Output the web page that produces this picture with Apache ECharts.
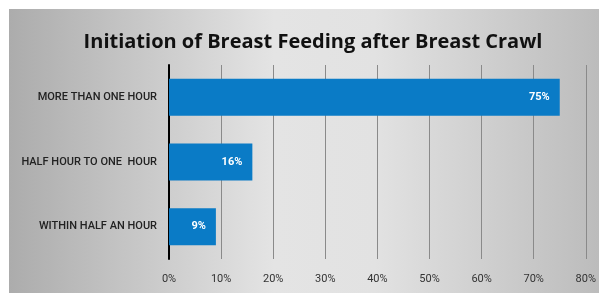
<!DOCTYPE html>
<html>
<head>
<meta charset="utf-8">
<script src="https://cdn.jsdelivr.net/npm/echarts@6/dist/echarts.min.js"></script>
<style>
  html, body { margin: 0; padding: 0; background: #fff; }
  #chart { width: 599px; height: 293px; }
</style>
</head>
<body>
<div id="chart"></div>
<script>
// data, top to bottom as shown
const categories = ['MORE THAN ONE HOUR', 'HALF HOUR TO ONE  HOUR', 'WITHIN HALF AN HOUR'];
const percents = [75, 16, 9];
const axisMax = 80;
const axisStep = 10;

const chart = echarts.init(document.getElementById('chart'));

const option = {
  animation: false,
  graphic: [{
    type: 'rect',
    z: -10,
    shape: { x: 9, y: 9, width: 590, height: 284 },
    style: {
      fill: new echarts.graphic.LinearGradient(0, 0, 1, 0, [
        { offset: 0, color: '#acacac' },
        { offset: 0.45, color: '#e4e4e4' },
        { offset: 0.62, color: '#e2e2e2' },
        { offset: 1, color: '#bcbcbc' }
      ])
    }
  }],
  title: {
    text: 'Initiation of Breast Feeding after Breast Crawl',
    left: 308,
    top: 27,
    textAlign: 'center',
    textStyle: {
      fontFamily: 'Open Sans',
      fontWeight: 'bold',
      fontSize: 20,
      color: '#111'
    }
  },
  grid: { left: 169, right: 13, top: 65, bottom: 34, containLabel: false },
  xAxis: {
    type: 'value',
    min: 0,
    max: axisMax,
    interval: axisStep,
    axisLine: { show: false },
    axisTick: { show: false },
    splitLine: { lineStyle: { color: '#8a8a8a', width: 1 } },
    axisLabel: {
      formatter: '{value}%',
      color: '#333',
      fontFamily: 'Roboto',
      fontSize: 11,
      margin: 15
    }
  },
  yAxis: {
    type: 'category',
    data: categories,
    inverse: true,
    axisLine: { show: true, lineStyle: { color: '#000', width: 2 } },
    axisTick: { show: false },
    axisLabel: {
      color: '#222',
      fontFamily: 'Roboto',
      fontWeight: 500,
      fontSize: 11,
      margin: 12
    }
  },
  series: [{
    type: 'bar',
    data: percents,
    barWidth: 37,
    itemStyle: { color: '#0a7bc6' },
    label: {
      show: true,
      position: 'insideRight',
      distance: 10,
      formatter: '{c}%',
      color: '#fff',
      fontWeight: 'bold',
      fontFamily: 'Roboto',
      fontSize: 11
    }
  }]
};

chart.setOption(option);
</script>
</body>
</html>
